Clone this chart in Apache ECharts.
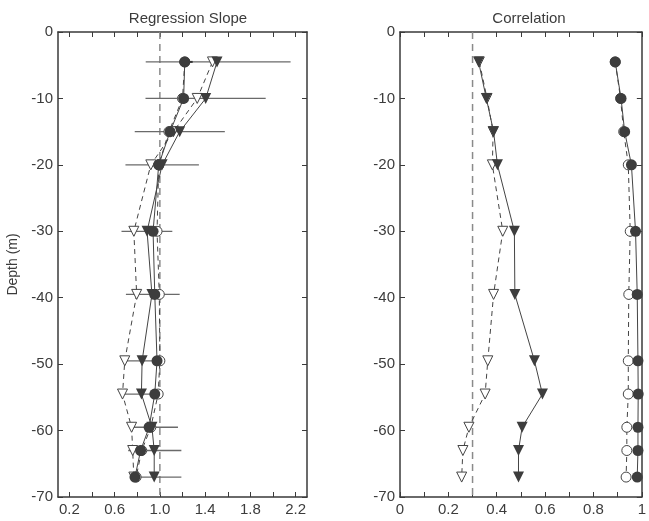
<!DOCTYPE html>
<html>
<head>
<meta charset="utf-8">
<script src="https://cdn.jsdelivr.net/npm/echarts@6/dist/echarts.min.js"></script>
<style>html,body{margin:0;padding:0;background:#fff}#c{width:649px;height:521px}</style>
</head>
<body>
<div id="c"></div>
<script>
// ---- data ----
const depth = [-4.5, -10, -15, -20, -30, -39.5, -49.5, -54.5, -59.5, -63, -67];
// Regression slope panel
const slopeCircleFilled = [1.22, 1.21, 1.09, 0.99, 0.94, 0.955, 0.975, 0.955, 0.905, 0.83, 0.78];
const slopeCircleOpen   = [1.22, 1.20, 1.08, 0.99, 0.975, 0.995, 1.0, 0.985, 0.92, 0.84, 0.79];
const slopeTriFilled    = [1.505, 1.405, 1.175, 1.02, 0.887, 0.93, 0.843, 0.837, 0.93, 0.95, 0.95];
const slopeTriOpen      = [1.465, 1.33, 1.12, 0.92, 0.77, 0.795, 0.69, 0.67, 0.75, 0.76, 0.77];
const slopeTriLow       = [0.875, 0.873, 0.778, 0.696, 0.661, 0.70, 0.69, 0.67, 0.75, 0.72, 0.76];
const slopeTriHigh      = [2.155, 1.935, 1.574, 1.345, 1.11, 1.175, 1.0, 0.98, 1.16, 1.19, 1.19];
const slopeCircleLow    = [1.17];
const slopeCircleHigh   = [1.29];
const slopeCircleErrDepth = [-4.5];
// Correlation panel
const corrCircleFilled = [0.89, 0.914, 0.929, 0.957, 0.974, 0.981, 0.984, 0.985, 0.984, 0.984, 0.981];
const corrCircleOpen   = [0.89, 0.912, 0.925, 0.944, 0.952, 0.946, 0.944, 0.944, 0.938, 0.938, 0.935];
const corrTriFilled    = [0.325, 0.357, 0.387, 0.403, 0.473, 0.475, 0.556, 0.589, 0.505, 0.49, 0.49];
const corrTriOpen      = [0.328, 0.36, 0.385, 0.382, 0.425, 0.387, 0.363, 0.352, 0.285, 0.26, 0.255];
// reference lines
const slopeRef = 1.0;
const corrRef = 0.3;
// ticks
const slopeTickVals = [0.2, 0.4, 0.6, 0.8, 1.0, 1.2, 1.4, 1.6, 1.8, 2.0, 2.2];
const slopeLabelVals = [0.2, 0.6, 1.0, 1.4, 1.8, 2.2];
const corrTickVals = [0, 0.1, 0.2, 0.3, 0.4, 0.5, 0.6, 0.7, 0.8, 0.9, 1.0];
const corrLabelVals = [0, 0.2, 0.4, 0.6, 0.8, 1];

// ---- chart ----
const FONT = '"Liberation Sans", Arial, sans-serif';
const AX = '#3a3a3a';
const MK = '#3d3d3d';
const TXT = '#3c3c3c';
const zip = (xs) => xs.map((v, i) => [v, depth[i]]);

function xAxisDef(gridIndex, pos, min, max, ticks, labels, showLabel, fmt) {
  return {
    type: 'value', gridIndex, position: pos, min, max,
    axisLine: { show: true, onZero: false, lineStyle: { color: AX, width: 1.5 } },
    axisTick: { show: true, inside: true, length: 5, customValues: ticks, lineStyle: { color: AX } },
    axisLabel: { show: showLabel, customValues: labels, margin: 5, color: TXT, fontSize: 15, fontFamily: FONT, formatter: fmt },
    splitLine: { show: false }
  };
}
function yAxisDef(gridIndex, pos, showLabel, name) {
  return {
    type: 'value', gridIndex, position: pos, min: -70, max: 0, interval: 10,
    name: name || '', nameLocation: 'middle', nameGap: 38,
    nameTextStyle: { color: TXT, fontSize: 14, fontFamily: FONT },
    axisLine: { show: true, onZero: false, lineStyle: { color: AX, width: 1.5 } },
    axisTick: { show: true, inside: true, length: 5, lineStyle: { color: AX } },
    axisLabel: { show: showLabel, margin: 5, color: TXT, fontSize: 15, fontFamily: FONT },
    splitLine: { show: false }
  };
}

function lineSeries(xi, yi, data, symbol, filled, dashed, size, z) {
  return {
    type: 'line', xAxisIndex: xi, yAxisIndex: yi, data: zip(data),
    symbol: symbol, symbolSize: size, symbolRotate: symbol === 'triangle' ? 180 : 0,
    showSymbol: true, animation: false, z: z,
    lineStyle: { color: '#444', width: 1, type: dashed ? [5, 4] : 'solid' },
    itemStyle: filled ? { color: MK, borderColor: MK, borderWidth: 0 } : { color: '#fff', borderColor: '#444', borderWidth: 1 }
  };
}
function refLine(xi, yi, x) {
  return {
    type: 'line', xAxisIndex: xi, yAxisIndex: yi, data: [[x, 0], [x, -70]],
    symbol: 'none', animation: false, z: 1,
    lineStyle: { color: '#8a8a8a', width: 1.5, type: [7, 5] }
  };
}
function errSeries(xi, yi, lo, hi, ys, color, w) {
  return {
    type: 'custom', xAxisIndex: xi, yAxisIndex: yi, animation: false, z: 2,
    data: lo.map((v, i) => [v, hi[i], ys[i]]),
    encode: { x: [0, 1], y: 2 },
    renderItem: function (params, api) {
      const a = api.coord([api.value(0), api.value(2)]);
      const b = api.coord([api.value(1), api.value(2)]);
      return { type: 'line', shape: { x1: a[0], y1: a[1], x2: b[0], y2: b[1] }, style: { stroke: color, lineWidth: w } };
    }
  };
}

const chart = echarts.init(document.getElementById('c'), null, { renderer: 'canvas' });
chart.setOption({
  backgroundColor: '#fff',
  animation: false,
  title: [
    { text: 'Regression Slope', left: 183, top: 6, textAlign: 'center', textStyle: { fontSize: 15, fontWeight: 'normal', color: TXT, fontFamily: FONT } },
    { text: 'Correlation', left: 524, top: 6, textAlign: 'center', textStyle: { fontSize: 15, fontWeight: 'normal', color: TXT, fontFamily: FONT } }
  ],
  grid: [
    { left: 58, top: 32, width: 249, height: 465 },
    { left: 400, top: 32, width: 248, height: 465 }
  ],
  xAxis: [
    xAxisDef(0, 'bottom', 0.1, 2.3, slopeTickVals, slopeLabelVals, true, v => v.toFixed(1)),
    xAxisDef(0, 'top', 0.1, 2.3, slopeTickVals, slopeLabelVals, false),
    xAxisDef(1, 'bottom', 0, 1, corrTickVals, corrLabelVals, true, v => String(+v.toFixed(1))),
    xAxisDef(1, 'top', 0, 1, corrTickVals, corrLabelVals, false)
  ],
  yAxis: [
    yAxisDef(0, 'left', true, 'Depth (m)'),
    yAxisDef(0, 'right', false),
    yAxisDef(1, 'left', true),
    yAxisDef(1, 'right', false)
  ],
  series: [
    refLine(0, 0, slopeRef),
    errSeries(0, 0, slopeTriLow, slopeTriHigh, depth, '#6a6a6a', 1.3),
    errSeries(0, 0, slopeCircleLow, slopeCircleHigh, slopeCircleErrDepth, '#333', 2),
    lineSeries(0, 0, slopeTriOpen, 'triangle', false, true, 10, 3),
    lineSeries(0, 0, slopeCircleOpen, 'circle', false, true, 10, 4),
    lineSeries(0, 0, slopeTriFilled, 'triangle', true, false, 11, 5),
    lineSeries(0, 0, slopeCircleFilled, 'circle', true, false, 11, 6),

    refLine(2, 2, corrRef),
    lineSeries(2, 2, corrTriOpen, 'triangle', false, true, 10, 3),
    lineSeries(2, 2, corrCircleOpen, 'circle', false, true, 10, 4),
    lineSeries(2, 2, corrTriFilled, 'triangle', true, false, 11, 5),
    lineSeries(2, 2, corrCircleFilled, 'circle', true, false, 11, 6)
  ]
});
</script>
</body>
</html>
